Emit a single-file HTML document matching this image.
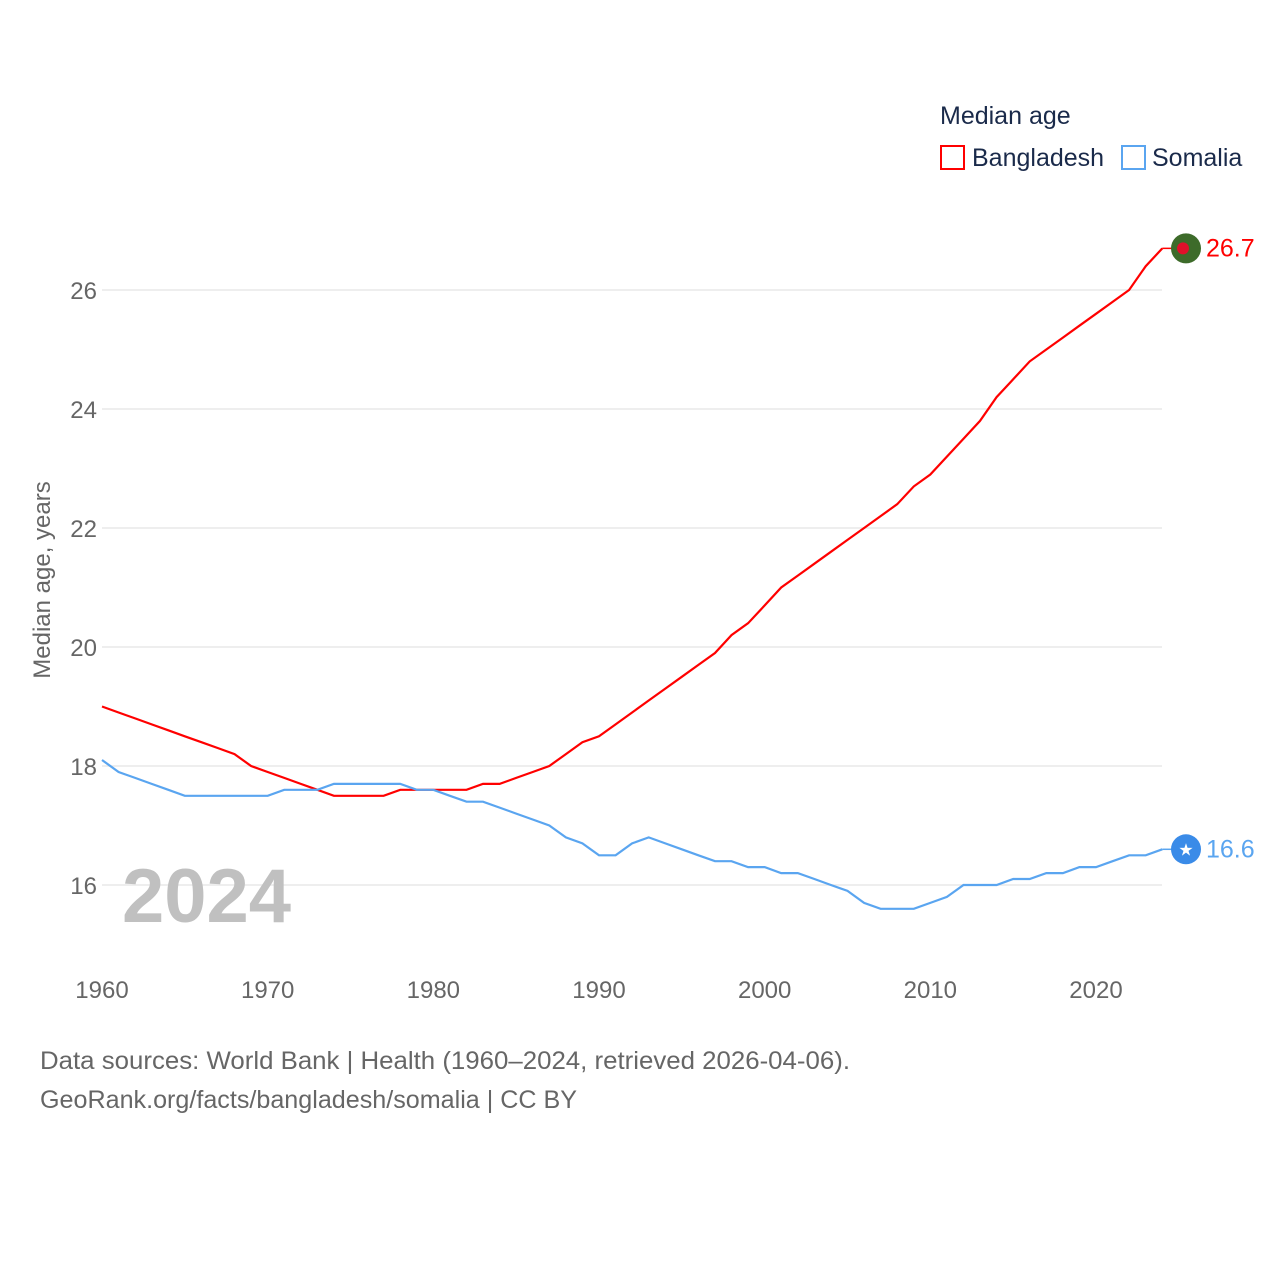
<!DOCTYPE html>
<html><head><meta charset="utf-8"><style>
body{margin:0;background:#fff;font-family:"Liberation Sans",sans-serif;}
svg text{font-family:"Liberation Sans",sans-serif;}
</style></head><body>
<svg id="chart" width="1280" height="1280" viewBox="0 0 1280 1280" xmlns="http://www.w3.org/2000/svg">
<rect width="1280" height="1280" fill="#fff"/>
<g id="grid"></g>
<g id="xticks"></g>
<text transform="translate(50,580) rotate(-90)" text-anchor="middle" font-size="24" fill="#666">Median age, years</text>
<text x="122" y="922" font-size="76" font-weight="bold" fill="#c0c0c0">2024</text>
<g id="lines"></g>
<text x="940" y="124" font-size="25" fill="#1a2a4a">Median age</text>
<g><rect x="941" y="146" width="23" height="23" fill="none" stroke="#ff0000" stroke-width="2"/><text x="972" y="166" font-size="25" fill="#1a2a4a">Bangladesh</text></g>
<g><rect x="1122" y="146" width="23" height="23" fill="none" stroke="#5aa5f0" stroke-width="2"/><text x="1152" y="166" font-size="25" fill="#1a2a4a">Somalia</text></g>
<text x="40" y="1069" font-size="25" fill="#666" textLength="810" lengthAdjust="spacingAndGlyphs">Data sources: World Bank | Health (1960–2024, retrieved 2026-04-06).</text>
<text x="40" y="1108" font-size="25" fill="#666" textLength="537" lengthAdjust="spacingAndGlyphs">GeoRank.org/facts/bangladesh/somalia | CC BY</text>
</svg>
<script>
const years=[];for(let y=1960;y<=2024;y++)years.push(y);
const bangladesh=[19.0,18.9,18.8,18.7,18.6,18.5,18.4,18.3,18.2,18.0,17.9,17.8,17.7,17.6,17.5,17.5,17.5,17.5,17.6,17.6,17.6,17.6,17.6,17.7,17.7,17.8,17.9,18.0,18.2,18.4,18.5,18.7,18.9,19.1,19.3,19.5,19.7,19.9,20.2,20.4,20.7,21.0,21.2,21.4,21.6,21.8,22.0,22.2,22.4,22.7,22.9,23.2,23.5,23.8,24.2,24.5,24.8,25.0,25.2,25.4,25.6,25.8,26.0,26.4,26.7];
const somalia=[18.1,17.9,17.8,17.7,17.6,17.5,17.5,17.5,17.5,17.5,17.5,17.6,17.6,17.6,17.7,17.7,17.7,17.7,17.7,17.6,17.6,17.5,17.4,17.4,17.3,17.2,17.1,17.0,16.8,16.7,16.5,16.5,16.7,16.8,16.7,16.6,16.5,16.4,16.4,16.3,16.3,16.2,16.2,16.1,16.0,15.9,15.7,15.6,15.6,15.6,15.7,15.8,16.0,16.0,16.0,16.1,16.1,16.2,16.2,16.3,16.3,16.4,16.5,16.5,16.6];
const yTicks=[16,18,20,22,24,26];
const xTicks=[1960,1970,1980,1990,2000,2010,2020];
const NS="http://www.w3.org/2000/svg";
const xs=y=>102+(y-1960)*(994/60);
const ys=v=>885-(v-16)*59.5;
function mk(t,a,p){const e=document.createElementNS(NS,t);for(const k in a)e.setAttribute(k,a[k]);p.appendChild(e);return e;}
const grid=document.getElementById('grid');
yTicks.forEach(v=>{
 const l=mk('line',{x1:102,x2:1162,y1:ys(v),y2:ys(v),stroke:'#e8e8e8','stroke-width':1.5},grid);
 
 
 const t=mk('text',{x:97,y:ys(v)+9,'text-anchor':'end','font-size':24,fill:'#666'},grid);t.textContent=v;
 
 
});
const xg=document.getElementById('xticks');
xTicks.forEach(v=>{
 const t=mk('text',{x:xs(v),y:998,'text-anchor':'middle','font-size':24,fill:'#666'},xg);t.textContent=v;
 
 
});
const lg=document.getElementById('lines');
function series(vals,color,name,label){
 const d=vals.map((v,i)=>(i?'L':'M')+xs(years[i]).toFixed(1)+','+ys(v).toFixed(1)).join(' ');
 const p=mk('path',{d:d,fill:'none',stroke:color,'stroke-width':2.2},lg);
 
 
 const last=vals[vals.length-1],lx=xs(years[years.length-1]),ly=ys(last);
 mk('line',{x1:lx,x2:lx+10,y1:ly,y2:ly,stroke:color,'stroke-width':1.5},lg);
 const t=mk('text',{x:1206,y:ly+8,'font-size':25,fill:color},lg);t.textContent=label;
 
 
 return ly;
}
const by=series(bangladesh,'#ff0000','bangladesh',bangladesh[bangladesh.length-1].toFixed(1));
const sy=series(somalia,'#5aa5f0','somalia',somalia[somalia.length-1].toFixed(1));
const f1=mk('circle',{cx:1186,cy:by,r:15,fill:'#3d6b2a'},lg);


mk('circle',{cx:1183,cy:by,r:6,fill:'#e0102a'},lg);
const f2=mk('circle',{cx:1186,cy:sy,r:15,fill:'#3a8be8'},lg);


const st=mk('text',{x:1186,y:sy+6,'text-anchor':'middle','font-size':17,fill:'#fff'},lg);st.textContent='★';
</script>
</body></html>
